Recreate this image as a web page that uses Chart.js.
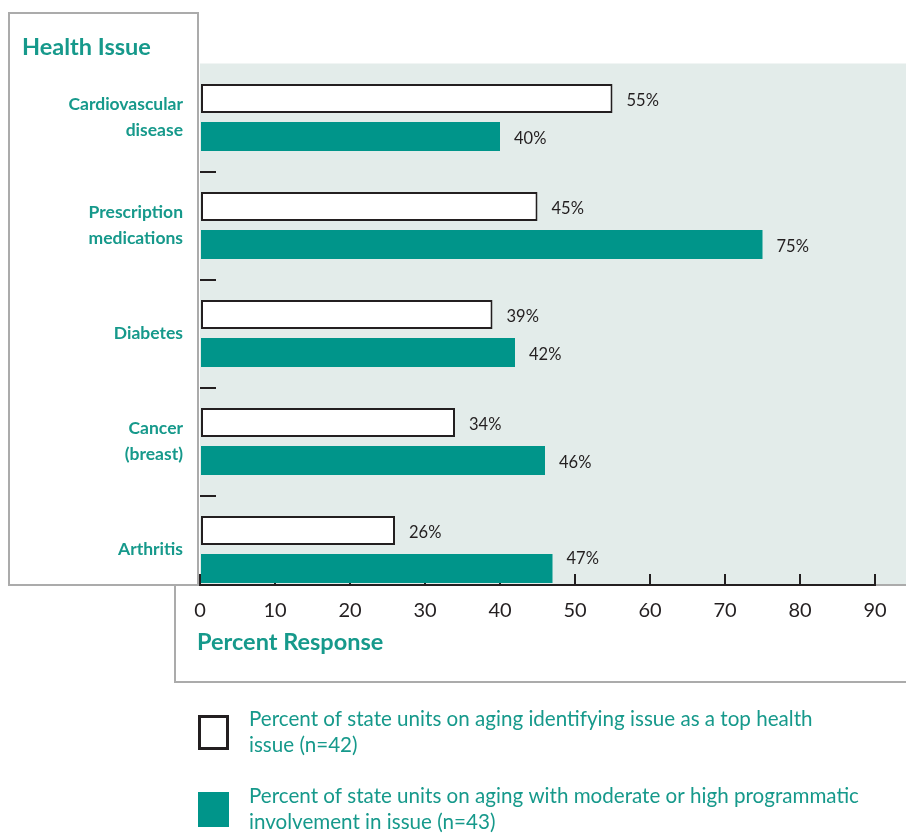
<!DOCTYPE html>
<html>
<head>
<meta charset="utf-8">
<script src="https://cdn.jsdelivr.net/npm/chart.js@4.4.0/dist/chart.umd.min.js"></script>
<style>
  html, body { margin: 0; padding: 0; background: #fff; }
  canvas { display: block; }
</style>
</head>
<body>
<canvas id="chart" width="906" height="834"></canvas>
<script>
// health issues, top to bottom
const issues = [['Cardiovascular', 'disease'], ['Prescription', 'medications'], 'Diabetes', ['Cancer', '(breast)'], 'Arthritis'];
// percent naming it a top health issue (n=42)
const topIssue = [55, 45, 39, 34, 26];
// percent with moderate/high programmatic involvement (n=43)
const involvement = [40, 75, 42, 46, 47];
const seriesNames = [
  ['Percent of state units on aging identifying issue as a top health', 'issue (n=42)'],
  ['Percent of state units on aging with moderate or high programmatic', 'involvement in issue (n=43)']
];
const xMin = 0, xMax = 90, xStep = 10;

const TEAL = '#00958a';
const TEXT_TEAL = '#16998b';
const INK = '#231f20';
const FRAME = '#ababab';
const FONT = 'Lato, "Open Sans", sans-serif';

Chart.defaults.font.family = FONT;

// panel frames + tinted plot background
const framePlugin = {
  id: 'frames',
  beforeDraw(chart) {
    const {ctx, chartArea} = chart;
    const axisY = chart.scales.x._borderValue || 585;
    ctx.save();
    ctx.fillStyle = '#e3ecea';
    ctx.fillRect(chartArea.left, chartArea.top, chart.width - chartArea.left, axisY - chartArea.top);
    ctx.strokeStyle = FRAME;
    ctx.lineWidth = 2;
    ctx.strokeRect(175, axisY, 760, 97);
    ctx.strokeRect(9, 13, 189, axisY - 13);
    ctx.restore();
  },
  afterDatasetsDraw(chart) {
    const {ctx, chartArea} = chart;
    const y = chart.scales.y;
    const axisY = chart.scales.x._borderValue || 585;
    ctx.save();
    // little dashes between the groups
    ctx.strokeStyle = INK;
    ctx.lineWidth = 2;
    for (let i = 0; i < issues.length - 1; i++) {
      const py = Math.round((y.getPixelForTick(i) + y.getPixelForTick(i + 1)) / 2);
      ctx.beginPath();
      ctx.moveTo(chartArea.left, py);
      ctx.lineTo(chartArea.left + 16, py);
      ctx.stroke();
    }
    // value labels, kept clear of the axis line
    ctx.fillStyle = INK;
    ctx.font = '16.5px ' + FONT;
    ctx.textAlign = 'left';
    ctx.textBaseline = 'middle';
    chart.data.datasets.forEach((ds, di) => {
      chart.getDatasetMeta(di).data.forEach((bar, i) => {
        const ty = Math.min(bar.y + 2.5, axisY - 26);
        ctx.fillText(ds.data[i] + '%', bar.x + 14, ty);
      });
    });
    ctx.restore();
  },
  afterDraw(chart) {
    const {ctx} = chart;
    ctx.save();
    ctx.fillStyle = TEXT_TEAL;
    ctx.textBaseline = 'middle';
    ctx.font = 'bold 23.5px ' + FONT;
    ctx.fillText('Health Issue', 22, 47);
    ctx.fillText('Percent Response', 197, 642);

    // legend
    ctx.font = '20.6px ' + FONT;
    chart.data.datasets.forEach((ds, i) => {
      const top = 715 + i * 77;
      if (i === 0) {
        ctx.fillStyle = '#fff';
        ctx.fillRect(198, top, 31, 35);
        ctx.strokeStyle = INK;
        ctx.lineWidth = 3;
        ctx.strokeRect(199.5, top + 1.5, 28, 32);
      } else {
        ctx.fillStyle = TEAL;
        ctx.fillRect(198, top, 31, 35);
      }
      ctx.fillStyle = TEXT_TEAL;
      ds.label.forEach((line, k) => ctx.fillText(line, 249, top + 4 + k * 26));
    });
    ctx.restore();
  }
};

new Chart(document.getElementById('chart'), {
  type: 'bar',
  data: {
    labels: issues,
    datasets: [
      {
        label: seriesNames[0],
        data: topIssue,
        backgroundColor: '#ffffff',
        borderColor: INK,
        borderWidth: 2,
        borderSkipped: false
      },
      {
        label: seriesNames[1],
        data: involvement,
        backgroundColor: TEAL,
        borderWidth: 0
      }
    ]
  },
  options: {
    indexAxis: 'y',
    responsive: false,
    animation: false,
    barPercentage: 0.763,
    categoryPercentage: 0.704,
    layout: { padding: { left: 0, top: 63.5, right: 31, bottom: 230.5 } },
    plugins: { legend: { display: false }, tooltip: { enabled: false } },
    scales: {
      y: {
        afterFit(s) { s.width = 200; },
        grid: { display: false, drawTicks: false },
        border: { display: false },
        ticks: {
          padding: 17,
          color: TEXT_TEAL,
          font: { size: 17.5, weight: 'bold', lineHeight: 1.49 }
        }
      },
      x: {
        type: 'linear',
        min: xMin,
        max: xMax,
        // axis sits a little above the bottom of the category band
        position: { y: 4.3287 },
        afterFit(s) { s.paddingLeft = 0; s.paddingRight = 0; },
        grid: { drawOnChartArea: false, drawTicks: true, tickLength: -12, color: INK, lineWidth: 2 },
        border: { color: INK, width: 2 },
        ticks: { stepSize: xStep, padding: 26, color: INK, font: { size: 20 } }
      }
    }
  },
  plugins: [framePlugin]
});
</script>
</body>
</html>
